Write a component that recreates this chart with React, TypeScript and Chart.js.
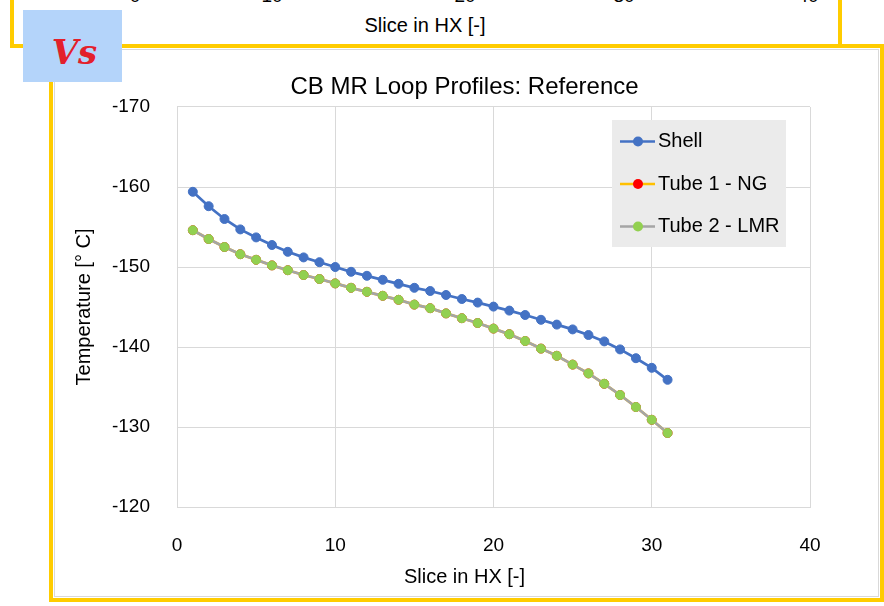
import React, { useEffect, useRef } from 'react';
import { Chart, registerables } from 'chart.js';

Chart.register(...registerables);

// ---- data ----
const slices = [1, 2, 3, 4, 5, 6, 7, 8, 9, 10, 11, 12, 13, 14, 15, 16, 17, 18, 19, 20, 21, 22, 23, 24, 25, 26, 27, 28, 29, 30, 31];
const shellTemps = [-159.4, -157.6, -156.0, -154.7, -153.7, -152.75, -151.9, -151.2, -150.6, -150.0, -149.4, -148.9, -148.4, -147.9, -147.4, -147.0, -146.5, -146.0, -145.55, -145.05, -144.55, -144.0, -143.4, -142.8, -142.2, -141.5, -140.7, -139.7, -138.6, -137.4, -135.9];
const tube1Temps = [-154.6, -153.5, -152.5, -151.6, -150.9, -150.2, -149.6, -149.0, -148.5, -147.95, -147.4, -146.9, -146.4, -145.9, -145.3, -144.85, -144.2, -143.6, -143.0, -142.3, -141.6, -140.75, -139.8, -138.9, -137.8, -136.7, -135.4, -134.0, -132.5, -130.9, -129.25];
const tube2Temps = [-154.6, -153.5, -152.5, -151.6, -150.9, -150.2, -149.6, -149.0, -148.5, -147.95, -147.4, -146.9, -146.4, -145.9, -145.3, -144.85, -144.2, -143.6, -143.0, -142.3, -141.6, -140.75, -139.8, -138.9, -137.8, -136.7, -135.4, -134.0, -132.5, -130.9, -129.25];
const seriesLabels = ['Shell', 'Tube 1 - NG', 'Tube 2 - LMR'];
const xRange = [0, 40];
const yRange = [-170, -120];
const tickStep = 10;
const chartTitle = 'CB MR Loop Profiles: Reference';
const xTitle = 'Slice in HX [-]';
const yTitle = 'Temperature [° C]';
const topChartTicks = ['0', '10', '20', '30', '40'];
const topChartTickX = [135, 272, 465, 624, 808];

const FONT = '"Liberation Sans", Arial, Helvetica, sans-serif';
const YELLOW = '#FFCC00';

const insideLegend = {
  id: 'insideLegend',
  afterDraw(chart: any) {
    const { ctx, chartArea } = chart;
    const w = 174;
    const h = 127;
    const x = chartArea.right - 198;
    const y = chartArea.top + 13;
    ctx.save();
    ctx.fillStyle = '#ebebeb';
    ctx.fillRect(x, y, w, h);
    chart.data.datasets.forEach((ds: any, i: number) => {
      const cy = y + 21.5 + i * 42.5;
      ctx.strokeStyle = ds.borderColor;
      ctx.lineWidth = 2.5;
      ctx.beginPath();
      ctx.moveTo(x + 8, cy);
      ctx.lineTo(x + 43, cy);
      ctx.stroke();
      ctx.fillStyle = ds.pointBackgroundColor;
      ctx.beginPath();
      ctx.arc(x + 26, cy, 5, 0, Math.PI * 2);
      ctx.fill();
      ctx.fillStyle = '#000';
      ctx.font = '20px ' + FONT;
      ctx.textBaseline = 'middle';
      ctx.textAlign = 'left';
      ctx.fillText(ds.label, x + 46, cy);
    });
    ctx.restore();
  },
};

export default function App() {
  const ref = useRef<HTMLCanvasElement>(null);

  useEffect(() => {
    const canvas = ref.current;
    if (!canvas) return;
    Chart.defaults.font.family = FONT;
    const toPts = (vals: number[]) => slices.map((s, i) => ({ x: s, y: vals[i] }));
    const chart = new Chart(canvas, {
      type: 'line',
      data: {
        datasets: [
          {
            label: seriesLabels[0],
            data: toPts(shellTemps),
            borderColor: '#4472C4',
            backgroundColor: '#4472C4',
            pointBackgroundColor: '#4472C4',
            pointBorderColor: '#4472C4',
            pointRadius: 4.5,
            pointBorderWidth: 1,
            borderWidth: 2.75,
            tension: 0,
            order: 2,
          },
          {
            label: seriesLabels[1],
            data: toPts(tube1Temps),
            borderColor: '#FFC000',
            backgroundColor: '#FF0000',
            pointBackgroundColor: '#FF0000',
            pointBorderColor: '#FF0000',
            pointRadius: 4.5,
            pointBorderWidth: 1,
            borderWidth: 2.75,
            tension: 0,
            order: 1,
          },
          {
            label: seriesLabels[2],
            data: toPts(tube2Temps),
            borderColor: '#A5A5A5',
            backgroundColor: '#92D050',
            pointBackgroundColor: '#92D050',
            pointBorderColor: '#92D050',
            pointRadius: 4.5,
            pointBorderWidth: 1,
            borderWidth: 2.75,
            tension: 0,
            order: 0,
          },
        ],
      },
      options: {
        responsive: false,
        animation: false,
        devicePixelRatio: 1,
        layout: { padding: { left: 49, right: 4, top: 0, bottom: 0 } },
        plugins: {
          legend: { display: false },
          tooltip: { enabled: false },
          title: {
            display: true,
            text: chartTitle,
            color: '#000',
            font: { size: 24, weight: 'normal', family: FONT },
            padding: { top: 72.6, bottom: 5.6 },
          },
          subtitle: {
            display: true,
            text: xTitle,
            position: 'bottom',
            color: '#000',
            font: { size: 20, weight: 'normal', family: FONT },
            padding: { top: 3, bottom: 17 },
          },
        },
        scales: {
          x: {
            type: 'linear',
            position: 'bottom',
            min: xRange[0],
            max: xRange[1],
            ticks: { stepSize: tickStep, color: '#000', font: { size: 19 }, padding: 27, maxRotation: 0, autoSkip: false },
            grid: { color: '#d9d9d9', lineWidth: 1, drawTicks: false },
            border: { display: true, color: '#d9d9d9' },
            afterFit: (s: any) => { s.height = 55; },
          },
          y: {
            type: 'linear',
            position: 'left',
            reverse: true,
            min: yRange[0],
            max: yRange[1],
            ticks: { stepSize: tickStep, color: '#000', font: { size: 19 }, padding: 27 },
            grid: { color: '#d9d9d9', lineWidth: 1, drawTicks: false },
            border: { display: true, color: '#d9d9d9' },
            title: {
              display: true,
              text: yTitle,
              color: '#000',
              font: { size: 20, weight: 'normal' },
              padding: { top: 23, bottom: 0 },
            },
            afterFit: (s: any) => { s.width = 128; },
          },
          yRightSpace: {
            type: 'linear',
            position: 'right',
            display: true,
            grid: { display: false, drawTicks: false },
            ticks: { display: false },
            border: { display: false },
            afterFit: (s: any) => { s.width = 70; },
          },
        },
      } as any,
      plugins: [insideLegend],
    });
    return () => chart.destroy();
  }, []);

  return (
    <div
      style={{
        position: 'fixed',
        left: 0,
        top: 0,
        width: 884,
        height: 606,
        overflow: 'hidden',
        background: '#fff',
        fontFamily: FONT,
      }}
    >
      {/* cropped previous chart above */}
      <div
        style={{
          position: 'absolute',
          left: 10,
          top: -10,
          width: 832,
          height: 58,
          boxSizing: 'border-box',
          border: `4px solid ${YELLOW}`,
          background: '#fff',
        }}
      />
      {topChartTicks.map((t, i) => (
        <div
          key={t}
          style={{
            position: 'absolute',
            left: topChartTickX[i] - 20,
            width: 40,
            top: -14,
            lineHeight: '20px',
            fontSize: 19,
            textAlign: 'center',
            color: '#000',
          }}
        >
          {t}
        </div>
      ))}
      <div
        style={{
          position: 'absolute',
          left: 325,
          width: 200,
          top: 13,
          lineHeight: '24px',
          fontSize: 20,
          textAlign: 'center',
          color: '#000',
        }}
      >
        {xTitle}
      </div>
      {/* current chart frame */}
      <div
        style={{
          position: 'absolute',
          left: 49,
          top: 44,
          width: 835,
          height: 558,
          boxSizing: 'border-box',
          border: `4px solid ${YELLOW}`,
          background: '#fff',
        }}
      >
        <div
          style={{
            position: 'absolute',
            left: 1,
            top: 1,
            right: 1,
            bottom: 1,
            border: '1px solid #d9d9d9',
          }}
        />
      </div>
      <canvas
        ref={ref}
        width={884}
        height={606}
        style={{ position: 'absolute', left: 0, top: 0, width: 884, height: 606 }}
      />
      {/* "Vs" badge */}
      <div
        style={{
          position: 'absolute',
          left: 23,
          top: 10,
          width: 99,
          height: 72,
          background: '#B4D4FA',
          display: 'flex',
          alignItems: 'center',
          justifyContent: 'center',
          paddingTop: 12,
          paddingLeft: 4,
          boxSizing: 'border-box',
          color: '#E3202B',
          fontFamily: '"DejaVu Serif", serif',
          fontStyle: 'italic',
          fontWeight: 'bold',
          fontSize: 34,
        }}
      >
        Vs
      </div>
    </div>
  );
}
